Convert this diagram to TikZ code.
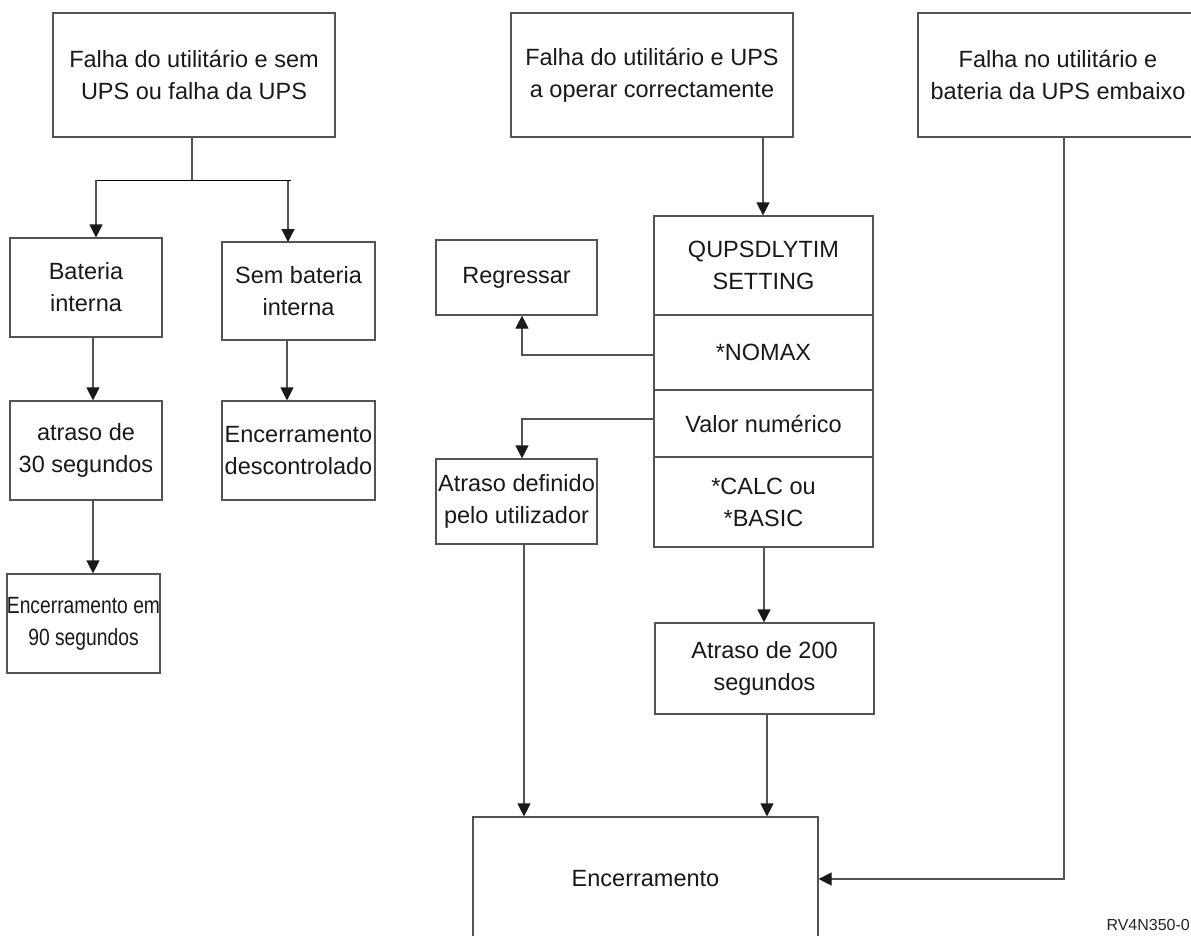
\documentclass[tikz,border=0pt]{standalone}
\usepackage{fontspec}
\usepackage{graphicx}
\setmainfont{Liberation Sans}
\usetikzlibrary{arrows.meta}
\definecolor{lineg}{gray}{0.33}
\tikzset{
  box/.style={draw=lineg, line width=1.2pt, inner sep=0pt, align=center,
    font=\fontsize{23.5}{32}\selectfont, text=black!90},
  conn/.style={draw=lineg, line width=1.2pt},
  arr/.style={conn, -{Triangle[length=13pt,width=13pt,color=black!90]}},
}
\begin{document}
\begin{tikzpicture}[x=1pt,y=-1pt]
\useasboundingbox (0,0) rectangle (1191,935);
% left column
\node[box, minimum width=282pt, minimum height=124pt] (A) at (194,75) {Falha do utilitário e sem\\UPS ou falha da UPS};
\node[box, minimum width=152pt, minimum height=99pt] (B) at (86,287.5) {Bateria\\interna};
\node[box, minimum width=153pt, minimum height=98pt] (C) at (298.5,291) {Sem bateria\\interna};
\node[box, minimum width=152pt, minimum height=99pt] (D) at (86,450.5) {atraso de\\30 segundos};
\node[box, minimum width=153pt, minimum height=99pt] (E) at (298.5,450.5) {Encerramento\\descontrolado};
\node[box, minimum width=153pt, minimum height=99pt] (F) at (83.5,623.5) {\scalebox{0.82}[1]{Encerramento em}\\\scalebox{0.82}[1]{90 segundos}};
% middle column
\node[box, minimum width=282pt, minimum height=124pt] (M) at (652,75) {Falha do utilitário e UPS\\a operar correctamente};
\node[box, minimum width=219pt, minimum height=99pt] (Q) at (763.5,265.5) {QUPSDLYTIM\\SETTING};
\node[box, minimum width=219pt, minimum height=75pt] (N) at (763.5,352.5) {*NOMAX};
\node[box, minimum width=219pt, minimum height=67pt] (V) at (763.5,423.5) {Valor numérico};
\node[box, minimum width=219pt, minimum height=90pt] (K) at (763.5,502) {*CALC ou\\*BASIC};
\node[box, minimum width=161pt, minimum height=75pt] (G) at (516.5,277.5) {Regressar};
\node[box, minimum width=161pt, minimum height=85pt] (U) at (516.5,501.5) {Atraso definido\\pelo utilizador};
\node[box, minimum width=219pt, minimum height=91pt] (T) at (764.5,668.5) {Atraso de 200\\segundos};
\node[box, minimum width=345pt, minimum height=124pt] (S) at (645.5,879) {Encerramento};
% right column
\node[box, minimum width=280pt, minimum height=124pt] (R) at (1058,75) {Falha no utilitário e\\bateria da UPS embaixo};
\node[anchor=base east, inner sep=0pt, font=\fontsize{16}{18}\selectfont, text=black!85] (id) at (1190,930) {RV4N350-0};
% connectors left
\coordinate (a1) at (192,180);
\coordinate (hl) at (96,180);
\coordinate (hr) at (291,180);
\draw[conn] (A.south -| a1) -- (a1);
\draw[draw=black, line width=1pt] (hl) -- (hr);
\draw[arr] (hl) -- (hl |- B.north);
\draw[arr] (288,181) -- (288,242);
\draw[arr] (B.south -| 93,0) -- (D.north -| 93,0);
\draw[arr] (C.south -| 287,0) -- (E.north -| 287,0);
\draw[arr] (D.south -| 93,0) -- (F.north -| 93,0);
% connectors middle
\draw[arr] (M.south -| 763,0) -- (Q.north -| 763,0);
\coordinate (nl) at (522,355);
\draw[arr] (N.west |- nl) -- (nl) -- (G.south -| nl);
\coordinate (vl) at (522,419);
\draw[arr] (V.west |- vl) -- (vl) -- (U.north -| vl);
\draw[arr] (U.south -| 524,0) -- (S.north -| 524,0);
\draw[arr] (K.south -| 764,0) -- (T.north -| 764,0);
\draw[arr] (T.south -| 767,0) -- (S.north -| 767,0);
% connector right
\coordinate (rc) at (1064,879);
\draw[arr] (R.south -| rc) -- (rc) -- (S.east |- rc);
\end{tikzpicture}
\end{document}
